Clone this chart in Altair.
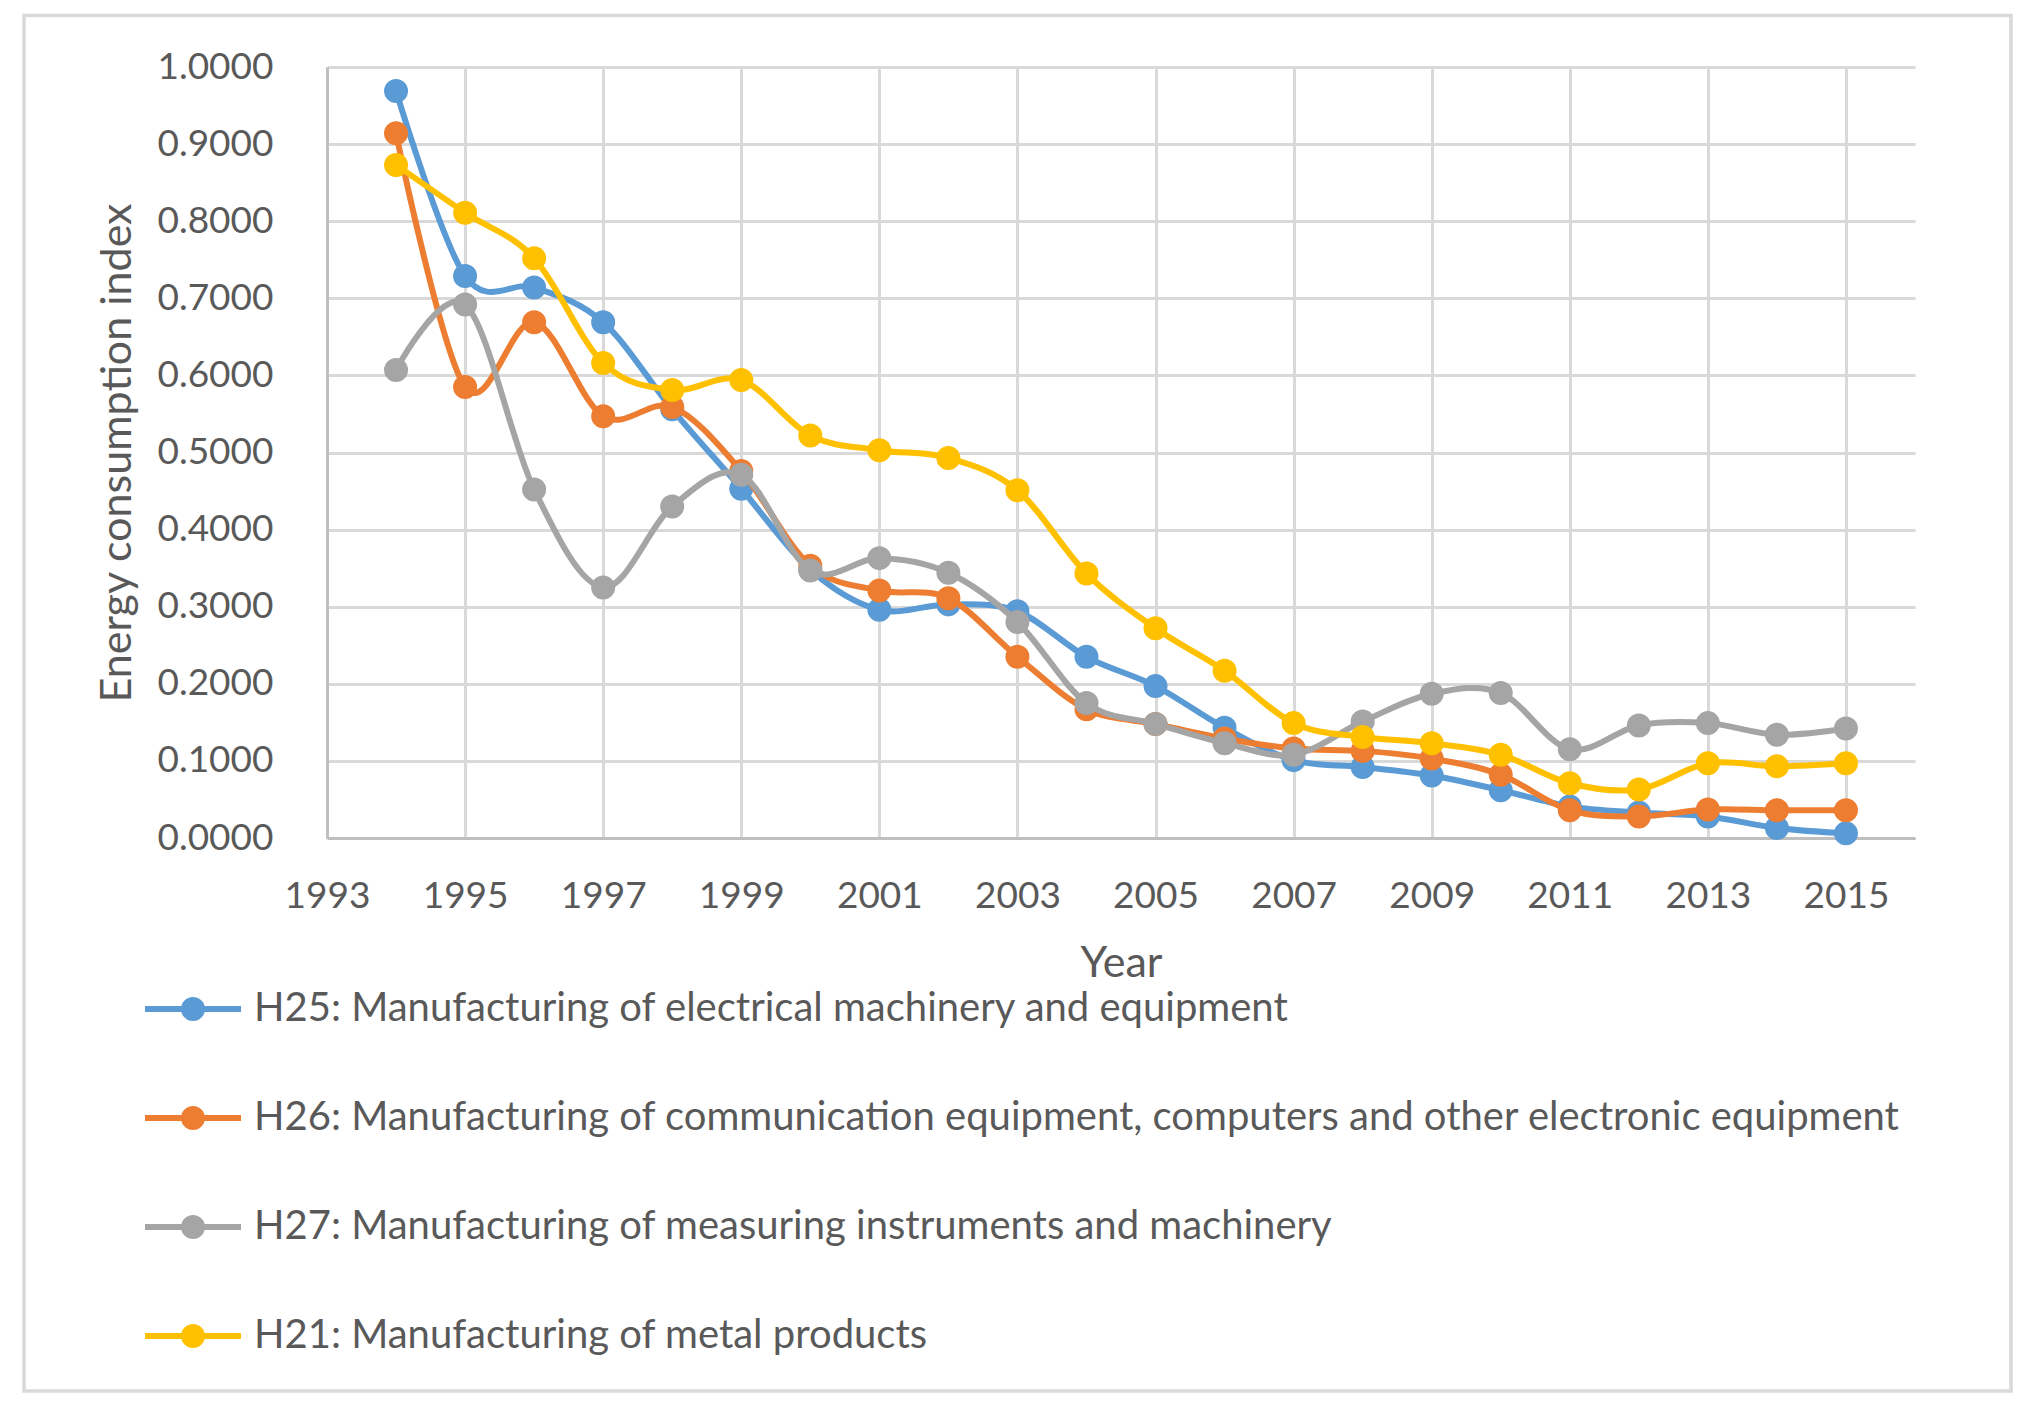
import altair as alt
import pandas as pd

# ---------------- data ----------------
years = list(range(1994, 2016))

series_names = [
    "H25: Manufacturing of electrical machinery and equipment",
    "H26: Manufacturing of communication equipment, computers and other electronic equipment",
    "H27: Manufacturing of measuring instruments and machinery",
    "H21: Manufacturing of metal products",
]
colors = ["#5B9BD5", "#ED7D31", "#A5A5A5", "#FFC000"]

h25 = [0.969, 0.729, 0.714, 0.669, 0.556, 0.453, 0.348, 0.296, 0.303, 0.294, 0.235,
       0.197, 0.143, 0.101, 0.092, 0.081, 0.062, 0.041, 0.033, 0.028, 0.013, 0.006]
h26 = [0.914, 0.585, 0.669, 0.547, 0.559, 0.476, 0.353, 0.321, 0.311, 0.235, 0.167,
       0.148, 0.129, 0.116, 0.113, 0.103, 0.082, 0.036, 0.028, 0.037, 0.036, 0.036]
h27 = [0.607, 0.692, 0.452, 0.325, 0.430, 0.471, 0.347, 0.363, 0.344, 0.280, 0.175,
       0.148, 0.123, 0.108, 0.151, 0.187, 0.188, 0.115, 0.146, 0.149, 0.134, 0.142]
h21 = [0.873, 0.811, 0.752, 0.616, 0.581, 0.594, 0.522, 0.503, 0.493, 0.451, 0.343,
       0.272, 0.217, 0.149, 0.131, 0.123, 0.108, 0.071, 0.063, 0.097, 0.093, 0.097]

x_ticks = [1993, 1995, 1997, 1999, 2001, 2003, 2005, 2007, 2009, 2011, 2013, 2015]
y_ticks = [0.0, 0.1, 0.2, 0.3, 0.4, 0.5, 0.6, 0.7, 0.8, 0.9, 1.0]

rows = []
for name, vals in zip(series_names, [h25, h26, h27, h21]):
    for yr, v in zip(years, vals):
        rows.append({"series": name, "year": yr, "value": v})
df = pd.DataFrame(rows)

# ---------------- styling ----------------
FONT = "Lato"
TXT = "#595959"
R = 0.1875
LEGEND_PATH = (f"M-1,0L1,0M{R},0A{R},{R},0,1,1,-{R},0A{R},{R},0,1,1,{R},0Z")

x_enc = alt.X(
    "year:Q",
    scale=alt.Scale(domain=[1993, 2016], nice=False, zero=False),
    axis=alt.Axis(values=x_ticks, format="d", title="Year", titleY=104,
                  labelPadding=40),
)
y_enc = alt.Y(
    "value:Q",
    scale=alt.Scale(domain=[0, 1], nice=False),
    axis=alt.Axis(values=y_ticks, format=".4f", title="Energy consumption index",
                  titleX=-188, labelPadding=54),
)

border = alt.Chart(pd.DataFrame({"k": [0]})).mark_rect(
    filled=False, stroke="#D9D9D9", strokeWidth=3.5
).encode(
    x=alt.value(-303), x2=alt.value(1684), y=alt.value(-51.5), y2=alt.value(1324)
)

layers = [border]
base = alt.Chart(df)
for s, c in zip(series_names, colors):
    f = base.transform_filter(alt.datum.series == s)
    layers.append(
        f.mark_line(interpolate="cardinal", strokeWidth=6, strokeCap="round",
                    strokeJoin="round", color=c).encode(x=x_enc, y=y_enc)
    )
    layers.append(
        f.mark_point(filled=True, size=484, opacity=1).encode(
            x=x_enc, y=y_enc,
            fill=alt.Fill("series:N", scale=alt.Scale(domain=series_names, range=colors),
                          title=None),
            stroke=alt.Stroke("series:N", scale=alt.Scale(domain=series_names, range=colors),
                              title=None),
        )
    )

chart = alt.layer(*layers).properties(
    width=1588,
    height=771,
    padding={"left": 319, "top": 59, "right": 105, "bottom": 562},
    autosize=alt.AutoSizeParams(type="none"),
).configure_view(
    stroke=None
).configure_axis(
    gridColor="#D9D9D9", gridWidth=3,
    domainColor="#BFBFBF", domainWidth=3,
    ticks=False, tickSize=0,
    labelFont=FONT, labelFontSize=37, labelColor=TXT, labelFlush=False,
    titleFont=FONT, titleFontSize=43, titleFontWeight="normal", titleColor=TXT,
).configure_legend(
    orient="none", legendX=-185, legendY=891, direction="vertical", columns=1,
    padding=0, rowPadding=37, labelOffset=10,
    symbolType=LEGEND_PATH, symbolSize=9216, symbolStrokeWidth=6,
    labelFont=FONT, labelFontSize=40, labelColor=TXT, labelLimit=3000,
)

chart.save("out.html", embed_options={"renderer": "svg", "actions": False})
